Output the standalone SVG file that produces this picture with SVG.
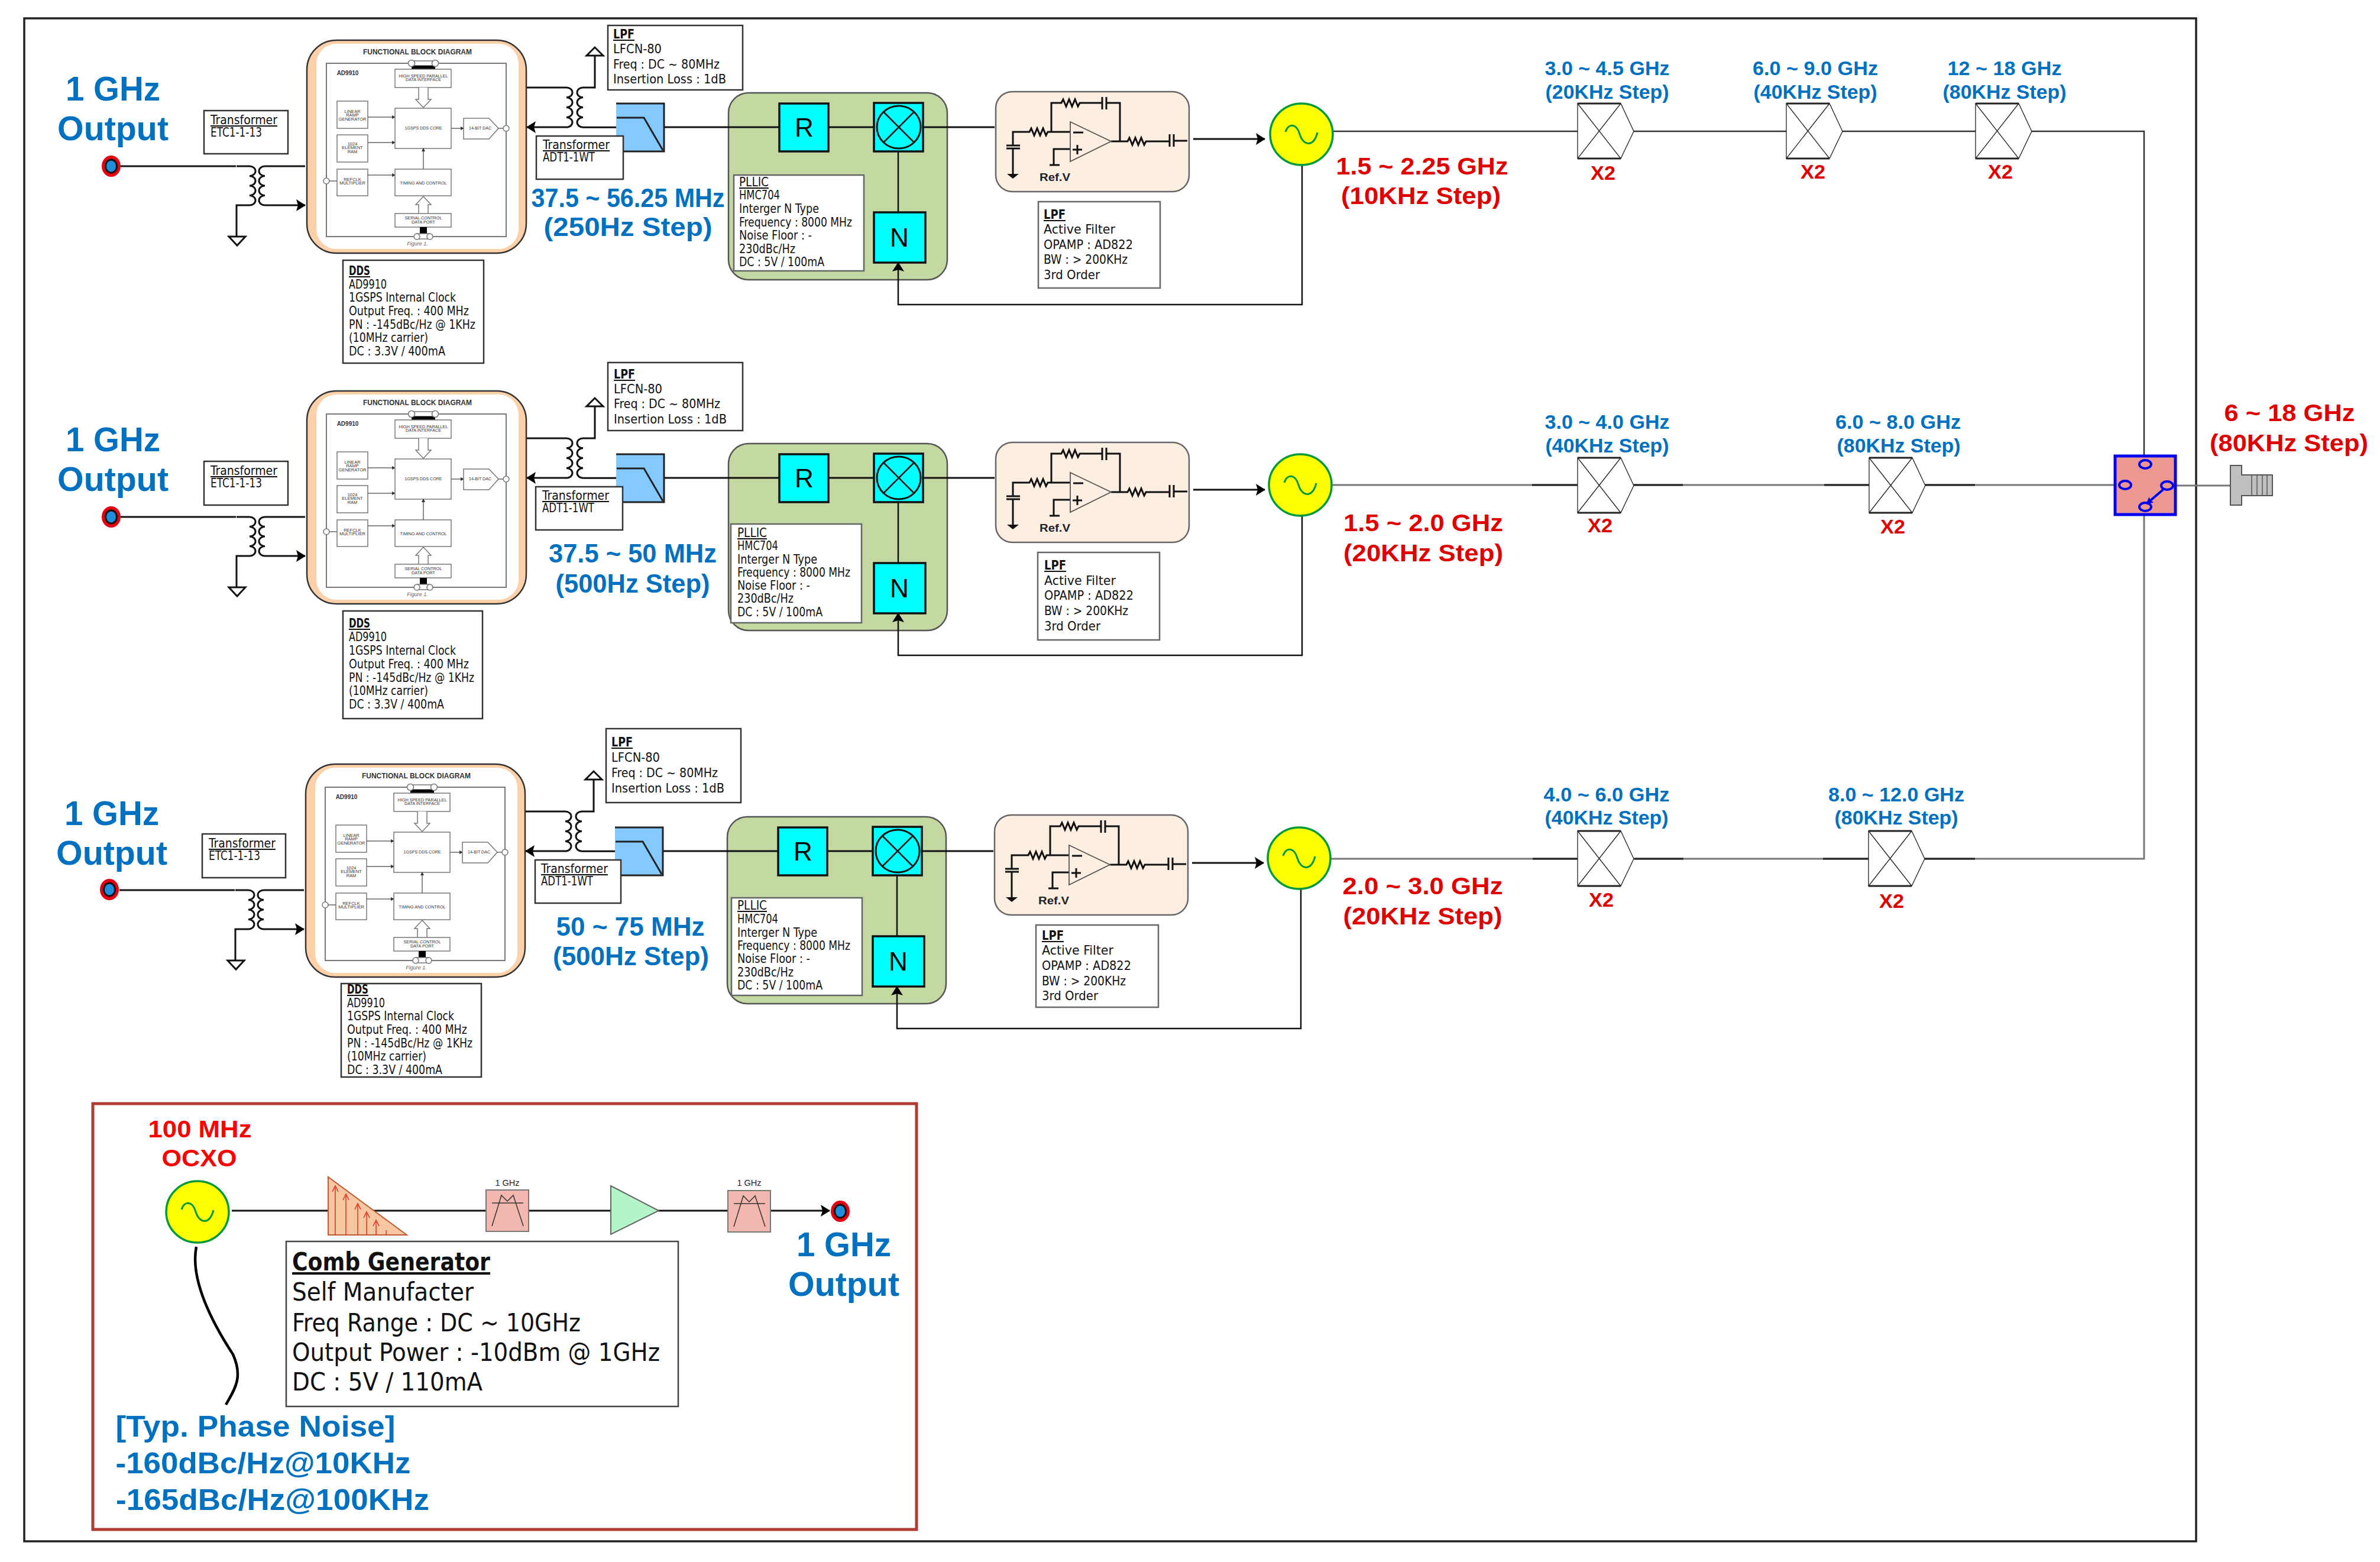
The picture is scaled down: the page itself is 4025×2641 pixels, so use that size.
<svg xmlns="http://www.w3.org/2000/svg" xmlns:xlink="http://www.w3.org/1999/xlink" width="4025" height="2641" viewBox="0 0 4025 2641">
<style>
.n{font-family:"DejaVu Sans Condensed","DejaVu Sans",sans-serif;font-size:20.5px;fill:#111}
.u{text-decoration:underline}
.bd{font-weight:bold}
.ls{font-family:"Liberation Sans",Arial,sans-serif}
.lb{font-family:"Liberation Sans",Arial,sans-serif;font-weight:bold;text-anchor:middle}
.bl{fill:#0070c0}
.rd{fill:#e00000}
.f56{font-size:58px}
.f44{font-size:45px}
.f40{font-size:41px}
.f32{font-size:34px}
.m{font-family:"Liberation Sans",Arial,sans-serif;font-size:7.5px;fill:#333;text-anchor:middle}
.bx{fill:#fff;stroke:#333;stroke-width:2.5}
.bg{fill:#fff;stroke:#666;stroke-width:2.5}
.ln{fill:none;stroke:#111;stroke-width:3}
.th{fill:none;stroke:#111;stroke-width:2.5}
.g{fill:none;stroke:#777;stroke-width:3}
.gb{fill:#fff;stroke:#777;stroke-width:1.5}
.ga{fill:none;stroke:#666;stroke-width:1.5}
.mk{fill:#fff;stroke:#222;stroke-width:1.3}
.bar{fill:none;stroke:#222;stroke-width:3}
.cy{fill:#00ffff;stroke:#111;stroke-width:3.5}
.lt{font-family:"Liberation Sans",Arial,sans-serif;font-size:44px;fill:#000;text-anchor:middle}
</style>
<defs>
<marker id="ah" markerUnits="userSpaceOnUse" markerWidth="16" markerHeight="20" viewBox="0 0 16 20" refX="15" refY="10" orient="auto"><path d="M0 0L16 10L0 20L3 10Z" fill="#000"/></marker>
<marker id="as" markerUnits="userSpaceOnUse" markerWidth="12" markerHeight="12" viewBox="0 0 12 12" refX="11" refY="6" orient="auto"><path d="M0 0L12 6L0 12L2 6Z" fill="#00f"/></marker>
<marker id="am" markerUnits="userSpaceOnUse" markerWidth="6" markerHeight="6" viewBox="0 0 6 6" refX="5" refY="3" orient="auto"><path d="M0 0L6 3L0 6Z" fill="#333"/></marker>
<g id="conn"><ellipse rx="16" ry="18" fill="#e60012"/><ellipse rx="11" ry="12.5" fill="#111"/><ellipse rx="8" ry="9.5" fill="#1f8fdc"/></g>
<g id="vco"><ellipse rx="53" ry="52" fill="#ff0" stroke="#009a3a" stroke-width="3.5"/><path d="M-27 -4C-22 -20 -8 -18 -3 0C2 18 20 24 27 -3" fill="none" stroke="#009a3a" stroke-width="3"/></g>
<g id="mult"><path d="M0 -47H73L95 0L73 46H0Z" class="mk"/><path d="M0 -47L73 46M0 46L73 -47" class="mk"/><path d="M0 -47H73M0 46H73" class="bar"/></g>
<g id="ddsShape">
<rect x="519" y="68" width="371" height="360" rx="50" fill="#fcd0a8" stroke="#333" stroke-width="2.5"/>
<rect x="535" y="74" width="342" height="347" rx="34" fill="#fff"/>
<rect x="552" y="107" width="304" height="293" fill="none" stroke="#777" stroke-width="2"/>
<rect x="696" y="103" width="40" height="8" fill="#fff" stroke="#777" stroke-width="1.5"/><rect x="696" y="111" width="40" height="6" fill="#000"/>
<circle cx="696" cy="107" r="5.5" class="gb"/><circle cx="736" cy="107" r="5.5" class="gb"/>
<rect x="668" y="117" width="95" height="31" class="gb"/>
<path d="M708 148V168H703L716 182L729 168H724V148" class="gb"/>
<rect x="570" y="171" width="52" height="46" class="gb"/><path d="M622 198H668" class="ga" marker-end="url(#am)"/>
<rect x="570" y="228" width="52" height="46" class="gb"/><path d="M622 241H668" class="ga" marker-end="url(#am)"/>
<rect x="570" y="286" width="52" height="45" class="gb"/><path d="M622 296H668" class="ga" marker-end="url(#am)"/>
<path d="M552 306H570" class="ga"/><circle cx="552" cy="306" r="5" class="gb"/>
<rect x="668" y="183" width="95" height="68" class="gb"/><rect x="668" y="286" width="95" height="45" class="gb"/>
<path d="M716 286V251" class="ga" marker-end="url(#am)"/><path d="M763 217H784" class="ga" marker-end="url(#am)"/>
<path d="M784 200H827L843 217L827 235H784Z" class="gb"/><path d="M843 217H856" class="ga"/><circle cx="856" cy="217" r="5" class="gb"/>
<path d="M708 361V346H703L716 332L729 346H724V361" class="gb"/>
<rect x="668" y="361" width="95" height="23" class="gb"/>
<rect x="710" y="384" width="12" height="11" fill="#000"/>
<rect x="705" y="395" width="22" height="9" fill="#fff" stroke="#777" stroke-width="1.5"/><circle cx="705" cy="400" r="5" class="gb"/><circle cx="727" cy="400" r="5" class="gb"/>
</g>
<g id="lpfIcon"><rect x="1042" y="175" width="81" height="81" fill="#84c9ff"/><path d="M1042 175H1123V256H1042" fill="none" stroke="#222" stroke-width="3"/><path d="M1043 199H1089L1121 254" fill="none" stroke="#222" stroke-width="3"/></g>
<g id="xfL"><path d="M400 281H422a10 8.25 0 0 1 0 16.5a10 8.25 0 0 1 0 16.5a10 8.25 0 0 1 0 16.5a10 8.25 0 0 1 0 16.5H400V400" class="ln"/><path d="M448 281a10 8.25 0 0 0 0 16.5a10 8.25 0 0 0 0 16.5a10 8.25 0 0 0 0 16.5a10 8.25 0 0 0 0 16.5" class="ln"/><path d="M448 281H516M448 347H516" class="ln" marker-end="url(#ah)"/><path d="M387 400H415L401 415Z" fill="#fff" stroke="#111" stroke-width="3"/></g>
<g id="xfR"><path d="M958 148a10 8.4 0 0 1 0 16.8a10 8.4 0 0 1 0 16.8a10 8.4 0 0 1 0 16.8a10 8.4 0 0 1 0 16.8" class="ln"/><path d="M958 148H891M958 215H891" class="ln" marker-end="url(#ah)"/><path d="M986 148a10 8.4 0 0 0 0 16.8a10 8.4 0 0 0 0 16.8a10 8.4 0 0 0 0 16.8a10 8.4 0 0 0 0 16.8H1042M986 148H1006V94" class="ln"/><path d="M992 94H1020L1006 80Z" fill="#fff" stroke="#111" stroke-width="3"/></g>
<g id="filt" fill="none" stroke="#111" stroke-width="3">
<rect x="1684" y="155" width="327" height="169" rx="28" fill="#fdeee2" stroke="#666" stroke-width="2.5"/>
<path d="M1713 246V223H1741l3 -6l5 12l5 -12l5 12l5 -12l5 12l3 -6H1810M1778 223V174H1795l3 -6l5 12l5 -12l5 12l5 -12l5 12l3 -6H1864M1871 174H1894V239M1879 239H1907l3 -6l5 12l5 -12l5 12l5 -12l5 12l3 -6H1977M1985 238H2008M1702 246H1725M1702 251H1725M1713 251V295M1864 164V185M1871 164V185M1978 227V248M1985 227V248M1810 252H1782V279M1775 279H1792M1815 224H1832M1814 253H1830M1822 245V261"/>
<path d="M1810 206L1879 239L1810 273Z" stroke="#555" stroke-width="1.8"/>
<path d="M1703 294H1723L1713 302Z" fill="#111" stroke="none"/>
</g>
<g id="flt"><rect x="0" y="0" width="72" height="70" fill="#f2b8b0" stroke="#777" stroke-width="2"/><path d="M10 61L26 9L36 19L46 9L63 61M10 22H63" fill="none" stroke="#333" stroke-width="1.5"/></g>
</defs>
<rect width="4025" height="2641" fill="#fff"/>
<rect id="frame" x="41" y="31" width="3673" height="2575" fill="none" stroke="#222" stroke-width="3.5"/>

<g id="pll-bg-1"><rect x="1232" y="157" width="370" height="316" rx="34" fill="#c3d9a1" stroke="#555" stroke-width="2.5"/></g>
<g id="pll-bg-2"><rect x="1232" y="750" width="370" height="316" rx="34" fill="#c3d9a1" stroke="#555" stroke-width="2.5"/></g>
<g id="pll-bg-3"><rect x="1230" y="1381" width="370" height="316" rx="34" fill="#c3d9a1" stroke="#555" stroke-width="2.5"/></g>

<g id="connectors">
<g id="conn-row1"><path d="M204 281H399M1123 215H1318M1401 215H1478M1561 215H1682M2018 235H2139" class="ln" marker-end="url(#ah)"/><path d="M1519 359V256M2202 279V515H1519V444" class="th" marker-end="url(#ah)"/></g>
<g id="conn-row2" transform="translate(0,593)"><path d="M204 281H399M1123 215H1318M1401 215H1478M1561 215H1682M2018 235H2139" class="ln" marker-end="url(#ah)"/><path d="M1519 359V256M2202 279V515H1519V444" class="th" marker-end="url(#ah)"/></g>
<g id="conn-row3" transform="translate(-2,1224)"><path d="M204 281H399M1123 215H1318M1401 215H1478M1561 215H1682M2018 235H2139" class="ln" marker-end="url(#ah)"/><path d="M1519 359V256M2202 279V515H1519V444" class="th" marker-end="url(#ah)"/></g>
<path d="M2254 222H3626V771" fill="none" stroke="#333" stroke-width="2.5"/>
<path d="M2252 820H3577M3679 821H3772M3626 870V1452H2250" class="g"/>
<path d="M2591 820H2668M2763 820H2846M3085 820H3161M3256 820H3340M2592 1452H2668M2764 1452H2847M3083 1452H3160M3255 1452H3340" fill="none" stroke="#222" stroke-width="3"/>
<path d="M392 2047H1403" class="ln" marker-end="url(#ah)"/>
<path d="M332 2108C320 2170 368 2250 394 2290C412 2330 396 2350 382 2375" fill="none" stroke="#000" stroke-width="4.5"/>
</g>

<g id="row1-input"><use href="#conn" x="188" y="281"/></g>
<g id="row2-input"><use href="#conn" x="188" y="874"/></g>
<g id="row3-input"><use href="#conn" x="185" y="1504"/></g>
<g id="row1-title"><text x="191" y="170" class="lb bl f56" textLength="160" lengthAdjust="spacingAndGlyphs">1 GHz</text><text x="191" y="237" class="lb bl f56" textLength="188" lengthAdjust="spacingAndGlyphs">Output</text></g>
<g id="row2-title"><text x="191" y="763" class="lb bl f56" textLength="160" lengthAdjust="spacingAndGlyphs">1 GHz</text><text x="191" y="830" class="lb bl f56" textLength="188" lengthAdjust="spacingAndGlyphs">Output</text></g>
<g id="row3-title"><text x="189" y="1395" class="lb bl f56" textLength="160" lengthAdjust="spacingAndGlyphs">1 GHz</text><text x="189" y="1462" class="lb bl f56" textLength="188" lengthAdjust="spacingAndGlyphs">Output</text></g>

<g id="row1-xf"><use href="#xfL"/><use href="#xfR"/><use href="#lpfIcon"/></g>
<g id="row2-xf" transform="translate(0,593)"><use href="#xfL"/><use href="#xfR"/><use href="#lpfIcon"/></g>
<g id="row3-xf" transform="translate(-2,1224)"><use href="#xfL"/><use href="#xfR"/><use href="#lpfIcon"/></g>

<g id="row1-xf-note1"><rect x="345" y="187" width="142" height="73" class="bx"/><text x="356" y="210" class="n u" textLength="113" lengthAdjust="spacingAndGlyphs">Transformer</text><text x="356" y="231" class="n" textLength="87" lengthAdjust="spacingAndGlyphs">ETC1-1-13</text></g>
<g id="row2-xf-note1"><rect x="345" y="780" width="142" height="74" class="bx"/><text x="356" y="803" class="n u" textLength="113" lengthAdjust="spacingAndGlyphs">Transformer</text><text x="356" y="824" class="n" textLength="87" lengthAdjust="spacingAndGlyphs">ETC1-1-13</text></g>
<g id="row3-xf-note1"><rect x="342" y="1410" width="141" height="74" class="bx"/><text x="353" y="1433" class="n u" textLength="113" lengthAdjust="spacingAndGlyphs">Transformer</text><text x="353" y="1454" class="n" textLength="87" lengthAdjust="spacingAndGlyphs">ETC1-1-13</text></g>
<g id="row1-xf-note2"><rect x="907" y="230" width="147" height="73" class="bx"/><text x="918" y="252" class="n u" textLength="113" lengthAdjust="spacingAndGlyphs">Transformer</text><text x="918" y="273" class="n" textLength="88" lengthAdjust="spacingAndGlyphs">ADT1-1WT</text></g>
<g id="row2-xf-note2"><rect x="906" y="823" width="147" height="73" class="bx"/><text x="917" y="845" class="n u" textLength="113" lengthAdjust="spacingAndGlyphs">Transformer</text><text x="917" y="866" class="n" textLength="88" lengthAdjust="spacingAndGlyphs">ADT1-1WT</text></g>
<g id="row3-xf-note2"><rect x="905" y="1454" width="145" height="73" class="bx"/><text x="915" y="1476" class="n u" textLength="113" lengthAdjust="spacingAndGlyphs">Transformer</text><text x="915" y="1497" class="n" textLength="88" lengthAdjust="spacingAndGlyphs">ADT1-1WT</text></g>

<g id="row1-dds"><use href="#ddsShape"/>
<text x="706" y="92" class="m" style="font-size:13px;font-weight:bold" textLength="184" lengthAdjust="spacingAndGlyphs">FUNCTIONAL BLOCK DIAGRAM</text><text x="588" y="127" class="m" style="font-size:10px;font-weight:bold">AD9910</text>
<text x="716" y="131" class="m" textLength="83" lengthAdjust="spacingAndGlyphs">HIGH SPEED PARALLEL</text><text x="716" y="137" class="m" textLength="60" lengthAdjust="spacingAndGlyphs">DATA INTERFACE</text>
<text x="596" y="191" class="m">LINEAR</text><text x="596" y="197" class="m">RAMP</text><text x="596" y="204" class="m">GENERATOR</text>
<text x="596" y="246" class="m">1024</text><text x="596" y="252" class="m">ELEMENT</text><text x="596" y="259" class="m">RAM</text>
<text x="596" y="306" class="m">REFCLK</text><text x="596" y="312" class="m">MULTIPLIER</text>
<text x="716" y="219" class="m" textLength="63" lengthAdjust="spacingAndGlyphs">1GSPS DDS CORE</text><text x="812" y="219" class="m" textLength="38" lengthAdjust="spacingAndGlyphs">14-BIT DAC</text>
<text x="716" y="312" class="m" textLength="79" lengthAdjust="spacingAndGlyphs">TIMING AND CONTROL</text><text x="716" y="371" class="m" textLength="63" lengthAdjust="spacingAndGlyphs">SERIAL CONTROL</text><text x="716" y="378" class="m" textLength="40" lengthAdjust="spacingAndGlyphs">DATA PORT</text>
<text x="706" y="415" class="m" style="font-size:9px;font-style:italic;fill:#666">Figure 1.</text></g>
<g id="row2-dds" transform="translate(0,593)"><use href="#ddsShape"/>
<text x="706" y="92" class="m" style="font-size:13px;font-weight:bold" textLength="184" lengthAdjust="spacingAndGlyphs">FUNCTIONAL BLOCK DIAGRAM</text><text x="588" y="127" class="m" style="font-size:10px;font-weight:bold">AD9910</text>
<text x="716" y="131" class="m" textLength="83" lengthAdjust="spacingAndGlyphs">HIGH SPEED PARALLEL</text><text x="716" y="137" class="m" textLength="60" lengthAdjust="spacingAndGlyphs">DATA INTERFACE</text>
<text x="596" y="191" class="m">LINEAR</text><text x="596" y="197" class="m">RAMP</text><text x="596" y="204" class="m">GENERATOR</text>
<text x="596" y="246" class="m">1024</text><text x="596" y="252" class="m">ELEMENT</text><text x="596" y="259" class="m">RAM</text>
<text x="596" y="306" class="m">REFCLK</text><text x="596" y="312" class="m">MULTIPLIER</text>
<text x="716" y="219" class="m" textLength="63" lengthAdjust="spacingAndGlyphs">1GSPS DDS CORE</text><text x="812" y="219" class="m" textLength="38" lengthAdjust="spacingAndGlyphs">14-BIT DAC</text>
<text x="716" y="312" class="m" textLength="79" lengthAdjust="spacingAndGlyphs">TIMING AND CONTROL</text><text x="716" y="371" class="m" textLength="63" lengthAdjust="spacingAndGlyphs">SERIAL CONTROL</text><text x="716" y="378" class="m" textLength="40" lengthAdjust="spacingAndGlyphs">DATA PORT</text>
<text x="706" y="415" class="m" style="font-size:9px;font-style:italic;fill:#666">Figure 1.</text></g>
<g id="row3-dds" transform="translate(-2,1224)"><use href="#ddsShape"/>
<text x="706" y="92" class="m" style="font-size:13px;font-weight:bold" textLength="184" lengthAdjust="spacingAndGlyphs">FUNCTIONAL BLOCK DIAGRAM</text><text x="588" y="127" class="m" style="font-size:10px;font-weight:bold">AD9910</text>
<text x="716" y="131" class="m" textLength="83" lengthAdjust="spacingAndGlyphs">HIGH SPEED PARALLEL</text><text x="716" y="137" class="m" textLength="60" lengthAdjust="spacingAndGlyphs">DATA INTERFACE</text>
<text x="596" y="191" class="m">LINEAR</text><text x="596" y="197" class="m">RAMP</text><text x="596" y="204" class="m">GENERATOR</text>
<text x="596" y="246" class="m">1024</text><text x="596" y="252" class="m">ELEMENT</text><text x="596" y="259" class="m">RAM</text>
<text x="596" y="306" class="m">REFCLK</text><text x="596" y="312" class="m">MULTIPLIER</text>
<text x="716" y="219" class="m" textLength="63" lengthAdjust="spacingAndGlyphs">1GSPS DDS CORE</text><text x="812" y="219" class="m" textLength="38" lengthAdjust="spacingAndGlyphs">14-BIT DAC</text>
<text x="716" y="312" class="m" textLength="79" lengthAdjust="spacingAndGlyphs">TIMING AND CONTROL</text><text x="716" y="371" class="m" textLength="63" lengthAdjust="spacingAndGlyphs">SERIAL CONTROL</text><text x="716" y="378" class="m" textLength="40" lengthAdjust="spacingAndGlyphs">DATA PORT</text>
<text x="706" y="415" class="m" style="font-size:9px;font-style:italic;fill:#666">Figure 1.</text></g>

<g id="row1-dds-note"><rect x="580" y="440" width="238" height="174" class="bx"/>
<text x="590" y="465" class="n u bd" textLength="36" lengthAdjust="spacingAndGlyphs">DDS</text><text x="590" y="488" class="n" textLength="64" lengthAdjust="spacingAndGlyphs">AD9910</text><text x="590" y="510" class="n" textLength="181" lengthAdjust="spacingAndGlyphs">1GSPS Internal Clock</text><text x="590" y="533" class="n" textLength="203" lengthAdjust="spacingAndGlyphs">Output Freq. : 400 MHz</text><text x="590" y="556" class="n" textLength="214" lengthAdjust="spacingAndGlyphs">PN : -145dBc/Hz @ 1KHz</text><text x="590" y="578" class="n" textLength="134" lengthAdjust="spacingAndGlyphs">(10MHz carrier)</text><text x="590" y="601" class="n" textLength="163" lengthAdjust="spacingAndGlyphs">DC : 3.3V / 400mA</text></g>
<g id="row2-dds-note"><rect x="580" y="1033" width="236" height="182" class="bx"/>
<text x="590" y="1061" class="n u bd" textLength="36" lengthAdjust="spacingAndGlyphs">DDS</text><text x="590" y="1084" class="n" textLength="64" lengthAdjust="spacingAndGlyphs">AD9910</text><text x="590" y="1107" class="n" textLength="181" lengthAdjust="spacingAndGlyphs">1GSPS Internal Clock</text><text x="590" y="1130" class="n" textLength="203" lengthAdjust="spacingAndGlyphs">Output Freq. : 400 MHz</text><text x="590" y="1153" class="n" textLength="212" lengthAdjust="spacingAndGlyphs">PN : -145dBc/Hz @ 1KHz</text><text x="590" y="1175" class="n" textLength="134" lengthAdjust="spacingAndGlyphs">(10MHz carrier)</text><text x="590" y="1198" class="n" textLength="161" lengthAdjust="spacingAndGlyphs">DC : 3.3V / 400mA</text></g>
<g id="row3-dds-note"><rect x="577" y="1663" width="237" height="158" class="bx"/>
<text x="587" y="1680" class="n u bd" textLength="36" lengthAdjust="spacingAndGlyphs">DDS</text><text x="587" y="1703" class="n" textLength="64" lengthAdjust="spacingAndGlyphs">AD9910</text><text x="587" y="1725" class="n" textLength="181" lengthAdjust="spacingAndGlyphs">1GSPS Internal Clock</text><text x="587" y="1748" class="n" textLength="203" lengthAdjust="spacingAndGlyphs">Output Freq. : 400 MHz</text><text x="587" y="1771" class="n" textLength="212" lengthAdjust="spacingAndGlyphs">PN : -145dBc/Hz @ 1KHz</text><text x="587" y="1793" class="n" textLength="134" lengthAdjust="spacingAndGlyphs">(10MHz carrier)</text><text x="587" y="1816" class="n" textLength="161" lengthAdjust="spacingAndGlyphs">DC : 3.3V / 400mA</text></g>

<g id="row1-lpf-note"><rect x="1028" y="43" width="228" height="109" class="bx"/><text x="1037" y="65" class="n u bd" textLength="36" lengthAdjust="spacingAndGlyphs">LPF</text><text x="1037" y="90" class="n" textLength="82" lengthAdjust="spacingAndGlyphs">LFCN-80</text><text x="1037" y="116" class="n" textLength="180" lengthAdjust="spacingAndGlyphs">Freq : DC ~ 80MHz</text><text x="1037" y="141" class="n" textLength="191" lengthAdjust="spacingAndGlyphs">Insertion Loss : 1dB</text></g>
<g id="row2-lpf-note"><rect x="1028" y="613" width="228" height="115" class="bx"/><text x="1038" y="640" class="n u bd" textLength="36" lengthAdjust="spacingAndGlyphs">LPF</text><text x="1038" y="665" class="n" textLength="82" lengthAdjust="spacingAndGlyphs">LFCN-80</text><text x="1038" y="690" class="n" textLength="180" lengthAdjust="spacingAndGlyphs">Freq : DC ~ 80MHz</text><text x="1038" y="716" class="n" textLength="191" lengthAdjust="spacingAndGlyphs">Insertion Loss : 1dB</text></g>
<g id="row3-lpf-note"><rect x="1025" y="1232" width="228" height="125" class="bx"/><text x="1034" y="1262" class="n u bd" textLength="36" lengthAdjust="spacingAndGlyphs">LPF</text><text x="1034" y="1288" class="n" textLength="82" lengthAdjust="spacingAndGlyphs">LFCN-80</text><text x="1034" y="1314" class="n" textLength="180" lengthAdjust="spacingAndGlyphs">Freq : DC ~ 80MHz</text><text x="1034" y="1340" class="n" textLength="191" lengthAdjust="spacingAndGlyphs">Insertion Loss : 1dB</text></g>

<g id="row1-freq"><text x="1062" y="350" class="lb bl f44" textLength="327" lengthAdjust="spacingAndGlyphs">37.5 ~ 56.25 MHz</text><text x="1062" y="399" class="lb bl f44" textLength="285" lengthAdjust="spacingAndGlyphs">(250Hz Step)</text></g>
<g id="row2-freq"><text x="1070" y="951" class="lb bl f44" textLength="284" lengthAdjust="spacingAndGlyphs">37.5 ~ 50 MHz</text><text x="1070" y="1002" class="lb bl f44" textLength="261" lengthAdjust="spacingAndGlyphs">(500Hz Step)</text></g>
<g id="row3-freq"><text x="1066" y="1582" class="lb bl f44" textLength="251" lengthAdjust="spacingAndGlyphs">50 ~ 75 MHz</text><text x="1067" y="1632" class="lb bl f44" textLength="264" lengthAdjust="spacingAndGlyphs">(500Hz Step)</text></g>

<g id="row1-r"><rect x="1318" y="175" width="83" height="81" class="cy"/><text x="1360" y="231" class="lt">R</text></g>
<g id="row1-mix"><rect x="1478" y="174" width="83" height="82" class="cy"/><ellipse cx="1520" cy="215" rx="37" ry="36" fill="none" stroke="#111" stroke-width="3"/><path d="M1494 189L1546 241M1546 189L1494 241" class="th"/></g>
<g id="row1-n"><rect x="1478" y="359" width="87" height="85" class="cy"/><text x="1521" y="417" class="lt">N</text></g>
<g id="row2-r"><rect x="1318" y="768" width="83" height="81" class="cy"/><text x="1360" y="824" class="lt">R</text></g>
<g id="row2-mix"><rect x="1478" y="767" width="83" height="82" class="cy"/><ellipse cx="1520" cy="808" rx="37" ry="36" fill="none" stroke="#111" stroke-width="3"/><path d="M1494 782L1546 834M1546 782L1494 834" class="th"/></g>
<g id="row2-n"><rect x="1478" y="952" width="87" height="85" class="cy"/><text x="1521" y="1010" class="lt">N</text></g>
<g id="row3-r"><rect x="1316" y="1399" width="83" height="81" class="cy"/><text x="1358" y="1455" class="lt">R</text></g>
<g id="row3-mix"><rect x="1476" y="1398" width="83" height="82" class="cy"/><ellipse cx="1518" cy="1439" rx="37" ry="36" fill="none" stroke="#111" stroke-width="3"/><path d="M1492 1413L1544 1465M1544 1413L1492 1465" class="th"/></g>
<g id="row3-n"><rect x="1476" y="1583" width="87" height="85" class="cy"/><text x="1519" y="1641" class="lt">N</text></g>

<g id="row1-pll-note"><rect x="1241" y="296" width="220" height="162" class="bg"/>
<text x="1250" y="315" class="n u" textLength="50" lengthAdjust="spacingAndGlyphs">PLLIC</text><text x="1250" y="337" class="n" textLength="69" lengthAdjust="spacingAndGlyphs">HMC704</text><text x="1250" y="360" class="n" textLength="135" lengthAdjust="spacingAndGlyphs">Interger N Type</text><text x="1250" y="383" class="n" textLength="191" lengthAdjust="spacingAndGlyphs">Frequency : 8000 MHz</text><text x="1250" y="405" class="n" textLength="123" lengthAdjust="spacingAndGlyphs">Noise Floor : -</text><text x="1250" y="428" class="n" textLength="95" lengthAdjust="spacingAndGlyphs">230dBc/Hz</text><text x="1250" y="450" class="n" textLength="144" lengthAdjust="spacingAndGlyphs">DC : 5V / 100mA</text></g>
<g id="row2-pll-note"><rect x="1236" y="886" width="221" height="167" class="bg"/>
<text x="1247" y="908" class="n u" textLength="50" lengthAdjust="spacingAndGlyphs">PLLIC</text><text x="1247" y="930" class="n" textLength="69" lengthAdjust="spacingAndGlyphs">HMC704</text><text x="1247" y="953" class="n" textLength="135" lengthAdjust="spacingAndGlyphs">Interger N Type</text><text x="1247" y="975" class="n" textLength="191" lengthAdjust="spacingAndGlyphs">Frequency : 8000 MHz</text><text x="1247" y="997" class="n" textLength="123" lengthAdjust="spacingAndGlyphs">Noise Floor : -</text><text x="1247" y="1019" class="n" textLength="95" lengthAdjust="spacingAndGlyphs">230dBc/Hz</text><text x="1247" y="1042" class="n" textLength="144" lengthAdjust="spacingAndGlyphs">DC : 5V / 100mA</text></g>
<g id="row3-pll-note"><rect x="1237" y="1518" width="221" height="165" class="bg"/>
<text x="1247" y="1538" class="n u" textLength="50" lengthAdjust="spacingAndGlyphs">PLLIC</text><text x="1247" y="1561" class="n" textLength="69" lengthAdjust="spacingAndGlyphs">HMC704</text><text x="1247" y="1584" class="n" textLength="135" lengthAdjust="spacingAndGlyphs">Interger N Type</text><text x="1247" y="1606" class="n" textLength="191" lengthAdjust="spacingAndGlyphs">Frequency : 8000 MHz</text><text x="1247" y="1628" class="n" textLength="123" lengthAdjust="spacingAndGlyphs">Noise Floor : -</text><text x="1247" y="1651" class="n" textLength="95" lengthAdjust="spacingAndGlyphs">230dBc/Hz</text><text x="1247" y="1673" class="n" textLength="144" lengthAdjust="spacingAndGlyphs">DC : 5V / 100mA</text></g>

<g id="row1-filter"><use href="#filt"/><text x="1758" y="306" class="ls" style="font-size:19px;font-weight:bold;fill:#222" textLength="52" lengthAdjust="spacingAndGlyphs">Ref.V</text></g>
<g id="row2-filter" transform="translate(0,593)"><use href="#filt"/><text x="1758" y="306" class="ls" style="font-size:19px;font-weight:bold;fill:#222" textLength="52" lengthAdjust="spacingAndGlyphs">Ref.V</text></g>
<g id="row3-filter" transform="translate(-2,1223)"><use href="#filt"/><text x="1758" y="306" class="ls" style="font-size:19px;font-weight:bold;fill:#222" textLength="52" lengthAdjust="spacingAndGlyphs">Ref.V</text></g>

<g id="row1-filter-note"><rect x="1756" y="341" width="206" height="146" class="bg"/><text x="1765" y="370" class="n u bd" textLength="37" lengthAdjust="spacingAndGlyphs">LPF</text><text x="1765" y="395" class="n" textLength="121" lengthAdjust="spacingAndGlyphs">Active Filter</text><text x="1765" y="421" class="n" textLength="151" lengthAdjust="spacingAndGlyphs">OPAMP : AD822</text><text x="1765" y="446" class="n" textLength="142" lengthAdjust="spacingAndGlyphs">BW : &gt; 200KHz</text><text x="1765" y="472" class="n" textLength="95" lengthAdjust="spacingAndGlyphs">3rd Order</text></g>
<g id="row2-filter-note"><rect x="1755" y="934" width="206" height="148" class="bg"/><text x="1766" y="963" class="n u bd" textLength="37" lengthAdjust="spacingAndGlyphs">LPF</text><text x="1766" y="989" class="n" textLength="121" lengthAdjust="spacingAndGlyphs">Active Filter</text><text x="1766" y="1014" class="n" textLength="151" lengthAdjust="spacingAndGlyphs">OPAMP : AD822</text><text x="1766" y="1040" class="n" textLength="142" lengthAdjust="spacingAndGlyphs">BW : &gt; 200KHz</text><text x="1766" y="1066" class="n" textLength="95" lengthAdjust="spacingAndGlyphs">3rd Order</text></g>
<g id="row3-filter-note"><rect x="1752" y="1564" width="207" height="139" class="bg"/><text x="1762" y="1589" class="n u bd" textLength="37" lengthAdjust="spacingAndGlyphs">LPF</text><text x="1762" y="1614" class="n" textLength="121" lengthAdjust="spacingAndGlyphs">Active Filter</text><text x="1762" y="1640" class="n" textLength="151" lengthAdjust="spacingAndGlyphs">OPAMP : AD822</text><text x="1762" y="1666" class="n" textLength="142" lengthAdjust="spacingAndGlyphs">BW : &gt; 200KHz</text><text x="1762" y="1691" class="n" textLength="95" lengthAdjust="spacingAndGlyphs">3rd Order</text></g>

<g id="row1-vco"><use href="#vco" x="2201" y="227"/><text x="2405" y="295" class="lb rd f40" textLength="291" lengthAdjust="spacingAndGlyphs">1.5 ~ 2.25 GHz</text><text x="2403" y="345" class="lb rd f40" textLength="270" lengthAdjust="spacingAndGlyphs">(10KHz Step)</text></g>
<g id="row2-vco"><use href="#vco" x="2199" y="820"/><text x="2407" y="898" class="lb rd f40" textLength="270" lengthAdjust="spacingAndGlyphs">1.5 ~ 2.0 GHz</text><text x="2407" y="949" class="lb rd f40" textLength="270" lengthAdjust="spacingAndGlyphs">(20KHz Step)</text></g>
<g id="row3-vco"><use href="#vco" x="2197" y="1451"/><text x="2406" y="1512" class="lb rd f40" textLength="271" lengthAdjust="spacingAndGlyphs">2.0 ~ 3.0 GHz</text><text x="2406" y="1563" class="lb rd f40" textLength="269" lengthAdjust="spacingAndGlyphs">(20KHz Step)</text></g>

<g id="row1-x2a"><use href="#mult" x="2668" y="222"/><text x="2718" y="127" class="lb bl f32" textLength="211" lengthAdjust="spacingAndGlyphs">3.0 ~ 4.5 GHz</text><text x="2718" y="167" class="lb bl f32" textLength="209" lengthAdjust="spacingAndGlyphs">(20KHz Step)</text><text x="2711" y="304" class="lb rd f32" textLength="42" lengthAdjust="spacingAndGlyphs">X2</text></g>
<g id="row1-x2b"><use href="#mult" x="3021" y="222"/><text x="3070" y="127" class="lb bl f32" textLength="212" lengthAdjust="spacingAndGlyphs">6.0 ~ 9.0 GHz</text><text x="3070" y="167" class="lb bl f32" textLength="209" lengthAdjust="spacingAndGlyphs">(40KHz Step)</text><text x="3066" y="302" class="lb rd f32" textLength="42" lengthAdjust="spacingAndGlyphs">X2</text></g>
<g id="row1-x2c"><use href="#mult" x="3341" y="222"/><text x="3390" y="127" class="lb bl f32" textLength="193" lengthAdjust="spacingAndGlyphs">12 ~ 18 GHz</text><text x="3390" y="167" class="lb bl f32" textLength="209" lengthAdjust="spacingAndGlyphs">(80KHz Step)</text><text x="3383" y="302" class="lb rd f32" textLength="42" lengthAdjust="spacingAndGlyphs">X2</text></g>
<g id="row2-x2a"><use href="#mult" x="2668" y="821"/><text x="2718" y="725" class="lb bl f32" textLength="211" lengthAdjust="spacingAndGlyphs">3.0 ~ 4.0 GHz</text><text x="2718" y="765" class="lb bl f32" textLength="209" lengthAdjust="spacingAndGlyphs">(40KHz Step)</text><text x="2706" y="900" class="lb rd f32" textLength="42" lengthAdjust="spacingAndGlyphs">X2</text></g>
<g id="row2-x2b"><use href="#mult" x="3161" y="821"/><text x="3210" y="725" class="lb bl f32" textLength="212" lengthAdjust="spacingAndGlyphs">6.0 ~ 8.0 GHz</text><text x="3211" y="765" class="lb bl f32" textLength="209" lengthAdjust="spacingAndGlyphs">(80KHz Step)</text><text x="3201" y="902" class="lb rd f32" textLength="42" lengthAdjust="spacingAndGlyphs">X2</text></g>
<g id="row3-x2a"><use href="#mult" x="2668" y="1452"/><text x="2717" y="1355" class="lb bl f32" textLength="213" lengthAdjust="spacingAndGlyphs">4.0 ~ 6.0 GHz</text><text x="2717" y="1394" class="lb bl f32" textLength="209" lengthAdjust="spacingAndGlyphs">(40KHz Step)</text><text x="2708" y="1533" class="lb rd f32" textLength="42" lengthAdjust="spacingAndGlyphs">X2</text></g>
<g id="row3-x2b"><use href="#mult" x="3160" y="1452"/><text x="3207" y="1355" class="lb bl f32" textLength="230" lengthAdjust="spacingAndGlyphs">8.0 ~ 12.0 GHz</text><text x="3207" y="1394" class="lb bl f32" textLength="209" lengthAdjust="spacingAndGlyphs">(80KHz Step)</text><text x="3199" y="1535" class="lb rd f32" textLength="42" lengthAdjust="spacingAndGlyphs">X2</text></g>

<g id="switch"><rect x="3577" y="771" width="102" height="99" fill="#ec9890" stroke="#0000f0" stroke-width="5"/>
<g fill="none" stroke="#0000f0" stroke-width="4"><ellipse cx="3628" cy="785" rx="10" ry="7"/><ellipse cx="3594" cy="820" rx="10" ry="7"/><ellipse cx="3665" cy="821" rx="10" ry="7"/><ellipse cx="3628" cy="857" rx="10" ry="7"/><path d="M3658 828L3630 852" marker-end="url(#as)"/></g></g>
<g id="output-connector"><path d="M3772 787H3791V803H3843V838H3791V854H3772Z" fill="#c0c0c0" stroke="#555" stroke-width="2"/><path d="M3808 803V838M3817 803V838M3826 803V838M3834 803V838" fill="none" stroke="#555" stroke-width="1.5"/><text x="3872" y="712" class="lb rd f40" textLength="221" lengthAdjust="spacingAndGlyphs">6 ~ 18 GHz</text><text x="3871" y="763" class="lb rd f40" textLength="268" lengthAdjust="spacingAndGlyphs">(80KHz Step)</text></g>

<g id="ref-panel"><rect x="157" y="1866" width="1393" height="720" fill="none" stroke="#b23a32" stroke-width="5"/></g>
<g id="ocxo"><use href="#vco" x="334" y="2049"/><text x="338" y="1923" class="lb" style="font-size:41px;fill:#f00" textLength="175" lengthAdjust="spacingAndGlyphs">100 MHz</text><text x="337" y="1972" class="lb" style="font-size:41px;fill:#f00" textLength="127" lengthAdjust="spacingAndGlyphs">OCXO</text></g>
<g id="comb"><path d="M555 1990V2088H688Z" fill="#f9c6a2" stroke="#c05a30" stroke-width="2"/><path d="M567 2088V2008M585 2088V2022M605 2088V2038M620 2088V2052M636 2088V2066M653 2088V2080M562 2015L567 2005L572 2015M580 2029L585 2019L590 2029M600 2045L605 2035L610 2045M615 2059L620 2049L625 2059M631 2073L636 2063L641 2073" fill="none" stroke="#e0301e" stroke-width="1.5"/></g>
<g id="bpf-1"><use href="#flt" x="822" y="2012"/><text x="858" y="2005" class="ls" style="font-size:15px;fill:#222;text-anchor:middle" textLength="41" lengthAdjust="spacingAndGlyphs">1 GHz</text></g>
<g id="amp"><path d="M1033 2005L1114 2047L1033 2087Z" fill="#b3f5c8" stroke="#666" stroke-width="2"/></g>
<g id="bpf-2"><use href="#flt" x="1231" y="2013"/><text x="1267" y="2005" class="ls" style="font-size:15px;fill:#222;text-anchor:middle" textLength="41" lengthAdjust="spacingAndGlyphs">1 GHz</text></g>
<g id="ref-output"><use href="#conn" x="1421" y="2048"/><text x="1427" y="2124" class="lb bl f56" textLength="160" lengthAdjust="spacingAndGlyphs">1 GHz</text><text x="1427" y="2191" class="lb bl f56" textLength="188" lengthAdjust="spacingAndGlyphs">Output</text></g>
<g id="comb-note"><rect x="484" y="2099" width="663" height="279" fill="#fff" stroke="#444" stroke-width="2.5"/>
<text x="494" y="2148" class="n u bd" style="font-size:42px" textLength="335" lengthAdjust="spacingAndGlyphs">Comb Generator</text><text x="494" y="2199" class="n" style="font-size:42px" textLength="307" lengthAdjust="spacingAndGlyphs">Self Manufacter</text><text x="494" y="2251" class="n" style="font-size:42px" textLength="488" lengthAdjust="spacingAndGlyphs">Freq Range : DC ~ 10GHz</text><text x="494" y="2301" class="n" style="font-size:42px" textLength="622" lengthAdjust="spacingAndGlyphs">Output Power : -10dBm @ 1GHz</text><text x="494" y="2351" class="n" style="font-size:42px" textLength="322" lengthAdjust="spacingAndGlyphs">DC : 5V / 110mA</text></g>
<g id="phase-noise"><text x="432" y="2429" class="lb bl" style="font-size:50px" textLength="473" lengthAdjust="spacingAndGlyphs">[Typ. Phase Noise]</text><text x="445" y="2491" class="lb bl" style="font-size:50px" textLength="499" lengthAdjust="spacingAndGlyphs">-160dBc/Hz@10KHz</text><text x="461" y="2553" class="lb bl" style="font-size:50px" textLength="530" lengthAdjust="spacingAndGlyphs">-165dBc/Hz@100KHz</text></g>
</svg>
